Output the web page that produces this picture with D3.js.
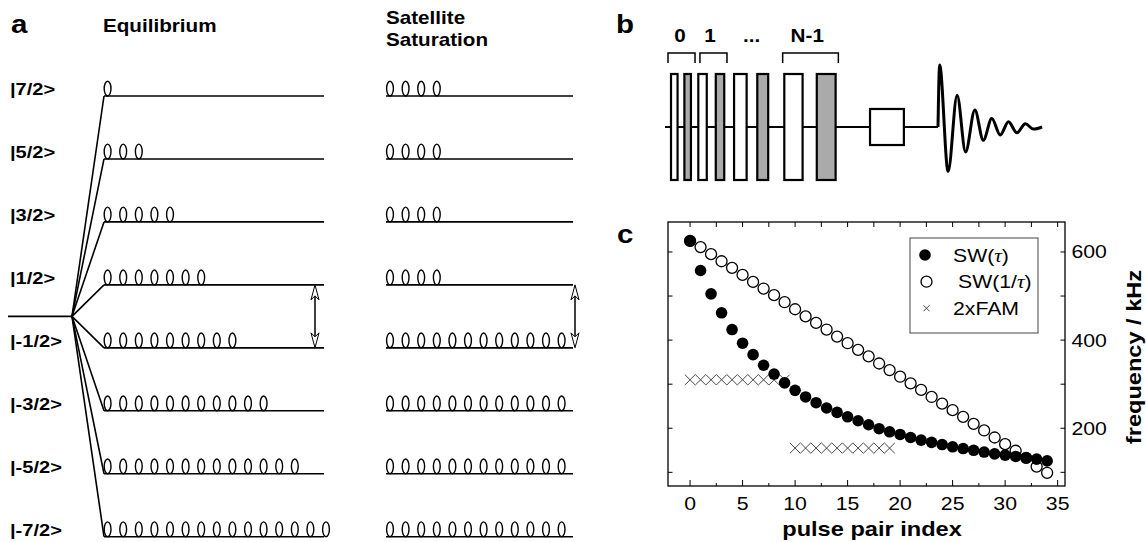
<!DOCTYPE html>
<html><head><meta charset="utf-8">
<script src="https://cdn.jsdelivr.net/npm/d3@7"></script>
<style>
body{margin:0;background:#fff}
svg{display:block}
text{font-family:"Liberation Sans",Arial,Helvetica,sans-serif;fill:#000}
</style>
</head><body>
<svg id="fig" width="1146" height="542"></svg>
<script>
// ---------------- DATA ----------------
// Panel a: spin levels and populations
const levelLabels = ["|7/2>", "|5/2>", "|3/2>", "|1/2>", "|-1/2>", "|-3/2>", "|-5/2>", "|-7/2>"];
const equilibriumPop = [1, 3, 5, 7, 9, 11, 13, 15];
const saturationPop = [4, 4, 4, 4, 12, 12, 12, 12];
const columnTitles = ["Equilibrium", "Satellite Saturation"];

// Panel b: pulse sequence (time in arbitrary units, 100 = start of acquisition)
const pulseStart = [2.2, 7.1, 12.2, 18.6, 25.3, 33.8, 43.7, 55.6];
const pulseEnd   = [4.6, 9.5, 15.3, 21.7, 29.9, 37.8, 50.4, 62.5];
const pulseKind  = ["w", "g", "w", "g", "w", "g", "w", "g"];
const readPulse  = [75.1, 87.5];
const bracketLabels = ["0", "1", "...", "N-1"];
const bracketStart  = [1.1, 12.8, null, 43.1];
const bracketEnd    = [11.0, 22.7, null, 63.5];
const bracketLabelT = [5.5, 16.5, 31.7, 52.1];
const fidT   = [100, 100.6, 103.7, 107, 110.1, 113.5, 116.6, 119.7, 122.8, 125.8, 128.9, 132, 135, 138.1];
const fidAmp = [0, 1.17, -0.84, 0.60, -0.47, 0.32, -0.25, 0.16, -0.15, 0.10, -0.11, 0.06, -0.04, 0];

// Panel c: frequencies vs pulse pair index
const pairIndex = [0,1,2,3,4,5,6,7,8,9,10,11,12,13,14,15,16,17,18,19,20,21,22,23,24,25,26,27,28,29,30,31,32,33,34];
const swTau    = [625,558,505,462,424,393,367,343,323,303,286,271,258,246,236,226,217,208,199,192,186,179,173,168,163,158,154,150,146,142,139,136,133,130,126];
const swInvTau = [625,611,595,579,564,548,532,517,502,486,470,454,439,424,408,393,378,363,347,332,317,302,287,271,256,241,226,210,195,179,164,149,133,113,99];
const famIndex = [0,1,2,3,4,5,6,7,8,9,10,11,12,13,14,15,16,17,18,19];
const famValue = [310,310,310,310,310,310,310,310,310,310,155,155,155,155,155,155,155,155,155,155];
const xTickMajor = [0,5,10,15,20,25,30,35];
const xTickMinor = [2.5,7.5,12.5,17.5,22.5,27.5,32.5];
const yTicks = [100,200,300,400,500,600];
const yTickLabels = [200,400,600];
const legendLabels = ["SW(", "SW(1/", "2xFAM"];

// ---------------- HELPERS ----------------
const svg = d3.select("#fig");
const SX = 1.18;
function txt(sel, x, y, s, size, weight, anchor) {
  return sel.append("text")
    .attr("transform", `translate(${x},${y}) scale(${SX},1)`)
    .attr("font-size", size)
    .attr("font-weight", weight || "normal")
    .attr("text-anchor", anchor || "start")
    .text(s);
}
function arrowV(g, x, y1, y2) {
  g.append("line").attr("x1", x).attr("x2", x).attr("y1", y1 + 2).attr("y2", y2 - 2)
    .attr("stroke", "#000").attr("stroke-width", 1.5);
  const head = (yt, dir) => `M${x-4},${yt+dir*15} L${x},${yt} L${x+4},${yt+dir*15} L${x},${yt+dir*11} Z`;
  g.append("path").attr("d", head(y1, 1)).attr("fill", "#fff").attr("stroke", "#000").attr("stroke-width", 1);
  g.append("path").attr("d", head(y2, -1)).attr("fill", "#fff").attr("stroke", "#000").attr("stroke-width", 1);
}

// ---------------- PANEL A ----------------
const ga = svg.append("g");
txt(ga, 11, 33, "a", 25, "bold");
txt(ga, 103, 32, columnTitles[0], 17.5, "bold");
txt(ga, 386, 24, "Satellite", 17.5, "bold");
txt(ga, 386, 46, "Saturation", 17.5, "bold");

const yLevel = d3.scalePoint().domain(levelLabels).range([96, 536.7]);
const fanX0 = 72, eqX0 = 104, eqX1 = 324, satX0 = 386, satX1 = 573;
const centerY = (yLevel(levelLabels[3]) + yLevel(levelLabels[4])) / 2;
const ovalStep = 15.6, ovalRx = 3.4, ovalRy = 7.4;

ga.append("line").attr("x1", 8).attr("x2", fanX0).attr("y1", centerY).attr("y2", centerY)
  .attr("stroke", "#000").attr("stroke-width", 1.6);

levelLabels.forEach((lab, i) => {
  const y = yLevel(lab);
  txt(ga, 10, y - 1, lab, 17, "bold");
  ga.append("line").attr("x1", fanX0).attr("y1", centerY).attr("x2", eqX0).attr("y2", y)
    .attr("stroke", "#000").attr("stroke-width", 1.6);
  ga.append("line").attr("x1", eqX0).attr("x2", eqX1).attr("y1", y).attr("y2", y)
    .attr("stroke", "#000").attr("stroke-width", 1.6);
  ga.append("line").attr("x1", satX0).attr("x2", satX1).attr("y1", y).attr("y2", y)
    .attr("stroke", "#000").attr("stroke-width", 1.6);
  ga.selectAll(null).data(d3.range(equilibriumPop[i])).enter().append("ellipse")
    .attr("cx", k => eqX0 + 3.6 + k * ovalStep).attr("cy", y - ovalRy)
    .attr("rx", ovalRx).attr("ry", ovalRy).attr("fill", "none").attr("stroke", "#000").attr("stroke-width", 1.4);
  ga.selectAll(null).data(d3.range(saturationPop[i])).enter().append("ellipse")
    .attr("cx", k => satX0 + 4 + k * ovalStep).attr("cy", y - ovalRy)
    .attr("rx", ovalRx).attr("ry", ovalRy).attr("fill", "none").attr("stroke", "#000").attr("stroke-width", 1.4);
});
arrowV(ga, 315, yLevel(levelLabels[3]), yLevel(levelLabels[4]));
arrowV(ga, 575, yLevel(levelLabels[3]), yLevel(levelLabels[4]));

// ---------------- PANEL B ----------------
const gb = svg.append("g");
txt(gb, 616, 33, "b", 25, "bold");
const tS = d3.scaleLinear().domain([0, 100]).range([665, 938]);
const aS = d3.scaleLinear().domain([-1, 1]).range([180, 74]);
gb.append("line").attr("x1", tS(0)).attr("x2", tS(100)).attr("y1", aS(0)).attr("y2", aS(0))
  .attr("stroke", "#000").attr("stroke-width", 2);
pulseStart.forEach((t0, i) => {
  gb.append("rect").attr("x", tS(t0)).attr("width", tS(pulseEnd[i]) - tS(t0))
    .attr("y", aS(1)).attr("height", aS(-1) - aS(1))
    .attr("fill", pulseKind[i] === "g" ? "#aaaaaa" : "#ffffff")
    .attr("stroke", "#000").attr("stroke-width", 2.2);
});
gb.append("rect").attr("x", tS(readPulse[0])).attr("width", tS(readPulse[1]) - tS(readPulse[0]))
  .attr("y", aS(0.34)).attr("height", aS(-0.34) - aS(0.34))
  .attr("fill", "#fff").attr("stroke", "#000").attr("stroke-width", 2.2);
bracketLabels.forEach((lab, i) => {
  if (bracketStart[i] !== null) {
    const x0 = tS(bracketStart[i]), x1 = tS(bracketEnd[i]);
    const yb = aS(1) - 21;
    gb.append("path").attr("d", `M${x0},${yb + 10} L${x0},${yb} L${x1},${yb} L${x1},${yb + 10}`)
      .attr("fill", "none").attr("stroke", "#000").attr("stroke-width", 1.5);
  }
  txt(gb, tS(bracketLabelT[i]), 42, lab, 17.5, "bold", "middle");
});
const fidLine = d3.line().x((d, i) => tS(fidT[i])).y(d => aS(d)).curve(d3.curveMonotoneX);
gb.append("path").attr("d", fidLine(fidAmp)).attr("fill", "none").attr("stroke", "#000").attr("stroke-width", 3);

// ---------------- PANEL C ----------------
const gc = svg.append("g");
txt(gc, 617, 243, "c", 25, "bold");
const L = 668, R = 1065, T = 222, B = 486;
const x = d3.scaleLinear().domain([-2.1, 35.7]).range([L, R]);
const y = d3.scaleLinear().domain([69, 668]).range([B, T]);

const tickG = gc.append("g").attr("stroke", "#000").attr("stroke-width", 1);
xTickMajor.concat(xTickMinor).forEach(v => {
  const major = xTickMajor.includes(v);
  tickG.append("line").attr("x1", x(v)).attr("x2", x(v)).attr("y1", B).attr("y2", B - (major ? 6 : 3));
  tickG.append("line").attr("x1", x(v)).attr("x2", x(v)).attr("y1", T).attr("y2", T + 5);
});
yTicks.forEach(v => {
  tickG.append("line").attr("x1", L).attr("x2", L + 4.5).attr("y1", y(v)).attr("y2", y(v));
  tickG.append("line").attr("x1", R).attr("x2", R - 4.5).attr("y1", y(v)).attr("y2", y(v));
});
gc.append("rect").attr("x", L).attr("y", T).attr("width", R - L).attr("height", B - T)
  .attr("fill", "none").attr("stroke", "#000").attr("stroke-width", 1.3);

xTickMajor.forEach(v => txt(gc, x(v), 510, String(v), 18, "normal", "middle"));
yTickLabels.forEach(v => txt(gc, R + 6.5, y(v) + 6.4, String(v), 18, "normal", "start"));
txt(gc, 872, 536, "pulse pair index", 20, "bold", "middle");
gc.append("text").attr("transform", `translate(1141,357) rotate(-90) scale(${SX},1)`)
  .attr("font-size", 20).attr("font-weight", "bold").attr("text-anchor", "middle").text("frequency / kHz");

// crosses
const cross = (g, cx, cy, h, sw, col) => g.append("path")
  .attr("d", `M${cx-h},${cy-h} L${cx+h},${cy+h} M${cx-h},${cy+h} L${cx+h},${cy-h}`)
  .attr("stroke", col).attr("stroke-width", sw).attr("fill", "none");
famIndex.forEach((v, i) => cross(gc, x(v), y(famValue[i]), 5.2, 0.9, "#333"));

gc.selectAll(null).data(pairIndex).enter().append("circle")
  .attr("cx", d => x(d)).attr("cy", (d, i) => y(swInvTau[i])).attr("r", 5.5)
  .attr("fill", "#fff").attr("stroke", "#000").attr("stroke-width", 1.3);
gc.selectAll(null).data(pairIndex).enter().append("circle")
  .attr("cx", d => x(d)).attr("cy", (d, i) => y(swTau[i])).attr("r", 5.8)
  .attr("fill", "#000");

// legend
const lg = gc.append("g");
lg.append("rect").attr("x", 910).attr("y", 238).attr("width", 128).attr("height", 95)
  .attr("fill", "#fff").attr("stroke", "#444").attr("stroke-width", 1);
lg.append("circle").attr("cx", 925).attr("cy", 255).attr("r", 5.8).attr("fill", "#000");
lg.append("circle").attr("cx", 926.5).attr("cy", 281.7).attr("r", 5.5).attr("fill", "#fff").attr("stroke", "#000").attr("stroke-width", 1.3);
cross(lg, 926.5, 308.3, 3, 0.9, "#333");
const legY = [261.5, 288, 314.5];
const legX = [953, 958, 953];
legendLabels.forEach((lab, i) => {
  const t = txt(lg, legX[i], legY[i], "", 18, "normal", "start");
  t.append("tspan").text(lab);
  if (i < 2) {
    t.append("tspan").attr("font-family", "'Liberation Serif',serif").attr("font-style", "italic").text("\u03C4");
    t.append("tspan").text(")");
  }
});
</script>
</body></html>
